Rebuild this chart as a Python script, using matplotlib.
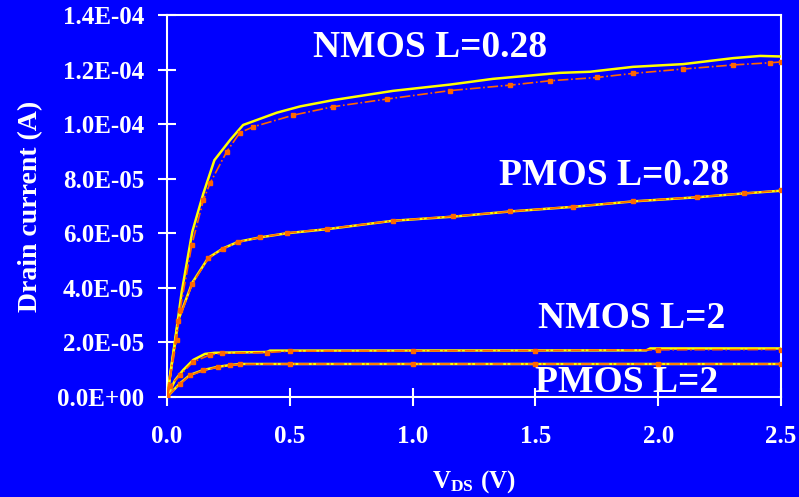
import matplotlib
matplotlib.use("Agg")
import matplotlib.pyplot as plt
import numpy as np

plt.rcParams['font.family'] = 'Liberation Serif'
plt.rcParams['font.weight'] = 'bold'
plt.rcParams['mathtext.fontset'] = 'custom'
plt.rcParams['mathtext.rm'] = 'Liberation Serif:bold'
plt.rcParams['mathtext.it'] = 'Liberation Serif:bold'

# drain current in units of 1e-5 A, measured (yellow) and simulated (orange)
nmos028_v = [0, 0.033, 0.060, 0.103, 0.148, 0.193, 0.257, 0.310, 0.365, 0.447, 0.542, 0.676,
             0.920, 1.152, 1.327, 1.600, 1.722, 1.897, 2.101, 2.305, 2.415, 2.5]
nmos028_i = [0, 2.09, 3.86, 6.06, 7.46, 8.68, 9.42, 9.97, 10.15, 10.42, 10.65, 10.88,
             11.22, 11.45, 11.66, 11.88, 11.92, 12.10, 12.20, 12.42, 12.50, 12.48]
nmos028_sim_v = [0, 0.039, 0.053, 0.101, 0.148, 0.175, 0.243, 0.297, 0.351, 0.514, 0.677,
                 0.895, 1.152, 1.397, 1.559, 1.750, 1.897, 2.101, 2.305, 2.455, 2.5]
nmos028_sim_i = [0, 2.09, 3.19, 5.57, 7.22, 7.83, 8.99, 9.69, 9.90, 10.33, 10.64,
                 10.92, 11.23, 11.43, 11.59, 11.71, 11.86, 12.02, 12.17, 12.25, 12.28]

pmos028_v = [0, 0.046, 0.103, 0.168, 0.229, 0.290, 0.379, 0.487, 0.650, 0.921, 1.165,
             1.397, 1.654, 1.899, 2.157, 2.347, 2.5]
pmos028_i = [0, 2.82, 4.19, 5.10, 5.45, 5.69, 5.85, 6.00, 6.15, 6.46, 6.61,
             6.80, 6.97, 7.17, 7.32, 7.46, 7.56]
pmos028_sim_v = [0, 0.046, 0.103, 0.168, 0.229, 0.290, 0.379, 0.487, 0.650, 0.921, 1.165,
                 1.397, 1.654, 1.899, 2.157, 2.347, 2.5]
pmos028_sim_i = [0, 2.78, 4.15, 5.08, 5.44, 5.68, 5.85, 6.01, 6.16, 6.46, 6.62,
                 6.80, 6.98, 7.17, 7.33, 7.46, 7.57]

nmos2_v = [0, 0.033, 0.066, 0.107, 0.155, 0.195, 0.406, 0.419, 1.951, 1.967, 2.5]
nmos2_i = [0, 0.62, 0.99, 1.36, 1.58, 1.62, 1.65, 1.70, 1.71, 1.78, 1.78]
nmos2_sim_v = [0, 0.012, 0.053, 0.107, 0.174, 0.222, 0.406, 0.5, 1.0, 1.5, 2.0, 2.5]
nmos2_sim_i = [0, 0.40, 0.80, 1.29, 1.54, 1.60, 1.63, 1.68, 1.69, 1.70, 1.73, 1.74]

pmos2_v = [0, 0.053, 0.094, 0.148, 0.209, 0.257, 0.297, 2.5]
pmos2_i = [0, 0.50, 0.81, 0.99, 1.11, 1.17, 1.21, 1.21]
pmos2_sim_v = [0, 0.053, 0.094, 0.148, 0.209, 0.257, 0.297, 0.5, 1.0, 1.5, 2.0, 2.5]
pmos2_sim_i = [0, 0.48, 0.79, 0.98, 1.10, 1.16, 1.20, 1.21, 1.21, 1.21, 1.21, 1.21]

labels = ["NMOS L=0.28", "PMOS L=0.28", "NMOS L=2", "PMOS L=2"]
label_pos = [(1.07, 12.8), (1.82, 8.1), (1.89, 2.86), (1.87, 0.52)]

yticks = np.arange(0, 14.01, 2)
ytick_labels = ["0.0E+00", "2.0E-05", "4.0E-05", "6.0E-05", "8.0E-05", "1.0E-04", "1.2E-04", "1.4E-04"]
xticks = [0, 0.5, 1.0, 1.5, 2.0, 2.5]

blue = '#0000FF'
fig = plt.figure(figsize=(7.99, 4.97), dpi=100, facecolor=blue)
ax = fig.add_axes([0.209, 0.2012, 0.7686, 0.7686])
ax.set_facecolor(blue)

measured = [(nmos028_v, nmos028_i), (pmos028_v, pmos028_i), (nmos2_v, nmos2_i), (pmos2_v, pmos2_i)]
simulated = [(nmos028_sim_v, nmos028_sim_i), (pmos028_sim_v, pmos028_sim_i),
             (nmos2_sim_v, nmos2_sim_i), (pmos2_sim_v, pmos2_sim_i)]
for v, i in measured:
    ax.plot(v, i, color='#FFFF00', lw=1.8, zorder=3)
for v, i in simulated:
    ax.plot(v, i, color='#FF6600', lw=1.2, ls='-.', marker='s', ms=3.2, zorder=4)

for txt, (x, y) in zip(labels, label_pos):
    ax.text(x, y, txt, color='white', fontsize=27, fontweight='bold', ha='center', va='center')

ax.set_xlim(0, 2.5)
ax.set_ylim(0, 14)
ax.set_xticks(xticks)
ax.set_xticklabels(["%.1f" % x for x in xticks])
ax.set_yticks(yticks)
ax.set_yticklabels(ytick_labels)
for s in ax.spines.values():
    s.set_color('white')
    s.set_linewidth(1.5)
ax.tick_params(colors='white', labelsize=18, direction='inout', length=13, width=1.5)
ax.tick_params(axis='x', pad=14)
ax.tick_params(axis='y', pad=10)
for lbl in ax.get_xticklabels() + ax.get_yticklabels():
    lbl.set_fontweight('bold')

ax.set_ylabel("Drain current (A)", color='white', fontsize=20, fontweight='bold', labelpad=10)
ax.set_xlabel(r"$\mathrm{V_{DS}\ (V)}$", color='white', fontsize=18, labelpad=14)

plt.savefig("out.png", dpi=100, facecolor=blue)
